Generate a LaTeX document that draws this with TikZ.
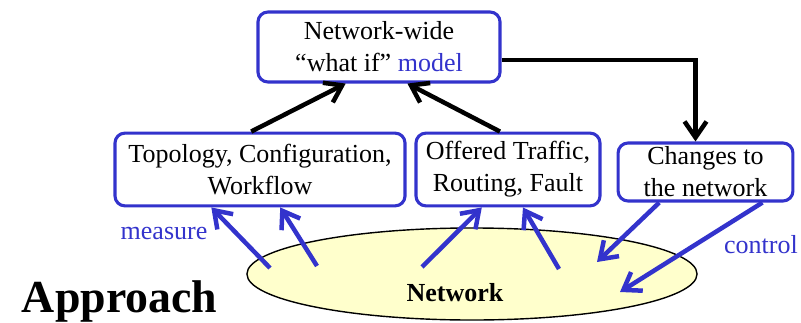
\documentclass[tikz,border=0pt]{standalone}
\usepackage{fontspec}
\setmainfont{Liberation Serif}
\usetikzlibrary{arrows.meta,calc,shapes.geometric}
\definecolor{netblue}{HTML}{3333CC}
\definecolor{netyellow}{HTML}{FFFFCC}
\tikzset{
  txt/.style={font=\fontsize{18.5}{22.7}\selectfont},
  box/.style={txt, draw=netblue, line width=2.2pt, rounded corners=2.5mm,
    align=center, inner sep=0pt},
  flow/.style={line width=3.2pt, -{Straight Barb[length=4mm,width=5.5mm]}},
  up/.style={flow, black},
  act/.style={flow, netblue},
}
\begin{document}
\begin{tikzpicture}[x=0.025cm,y=-0.025cm]
\useasboundingbox (0,0) rectangle (801,322);
% the network itself
\node (net) [ellipse, draw, line width=1pt, fill=netyellow,
  minimum width=11.25cm, minimum height=2.3cm] at (472,274) {};
\node (netlbl) [txt, font=\fontsize{18.5}{22.7}\selectfont\bfseries, anchor=base] at (455,301) {Network};
% boxes
\node (model) [box, minimum width=6.05cm, minimum height=1.75cm] at (379,47)
  {Network-wide\\“what if” \textcolor{netblue}{model}};
\node (topo) [box, minimum width=7.25cm, minimum height=1.82cm] at (260,169.5)
  {Topology, Configuration,\\Workflow};
\node (traffic) [box, minimum width=4.6cm, minimum height=1.82cm] at (508,169.5)
  {Offered Traffic,\\Routing, Fault};
\node (change) [box, minimum width=4.37cm, minimum height=1.45cm] at (705.5,172)
  {Changes to\\the network};
% labels
\node (measure) [txt, text=netblue] at (164,233) {measure};
\node (control) [txt, text=netblue] at (761,245) {control};
\node (title) [anchor=base west, font=\fontsize{32.6}{36}\selectfont\bfseries] at (17,312) {Approach};
% points on the network
\coordinate (m1) at (270,268);
\coordinate (m2) at (317,266);
\coordinate (m3) at (422,267);
\coordinate (m4) at (559,269);
\coordinate (c1) at (597,262);
\coordinate (c2) at (620,292);
% measurement
\draw[act] (m1) -- ($(topo.south west)!0.334!(topo.south east)$);
\draw[act] (m2) -- ($(topo.south west)!0.569!(topo.south east)$);
\draw[act] (m3) -- ($(traffic.south west)!0.36!(traffic.south east)$);
\draw[act] (m4) -- ($(traffic.south west)!0.58!(traffic.south east)$);
% into the model
\draw[up] ($(topo.north west)!0.47!(topo.north east)$) -- ($(model.south west)!0.364!(model.south east)$);
\draw[up] ($(traffic.north west)!0.457!(traffic.north east)$) -- ($(model.south west)!0.616!(model.south east)$);
\draw[up] ($(model.east)+(0,13)$) -| ($(change.north)+(-10,0)$);
% control
\draw[act] ($(change.south west)!0.24!(change.south east)$) -- (c1);
\draw[act] ($(change.south west)!0.82!(change.south east)$) -- (c2);
\end{tikzpicture}
\end{document}
